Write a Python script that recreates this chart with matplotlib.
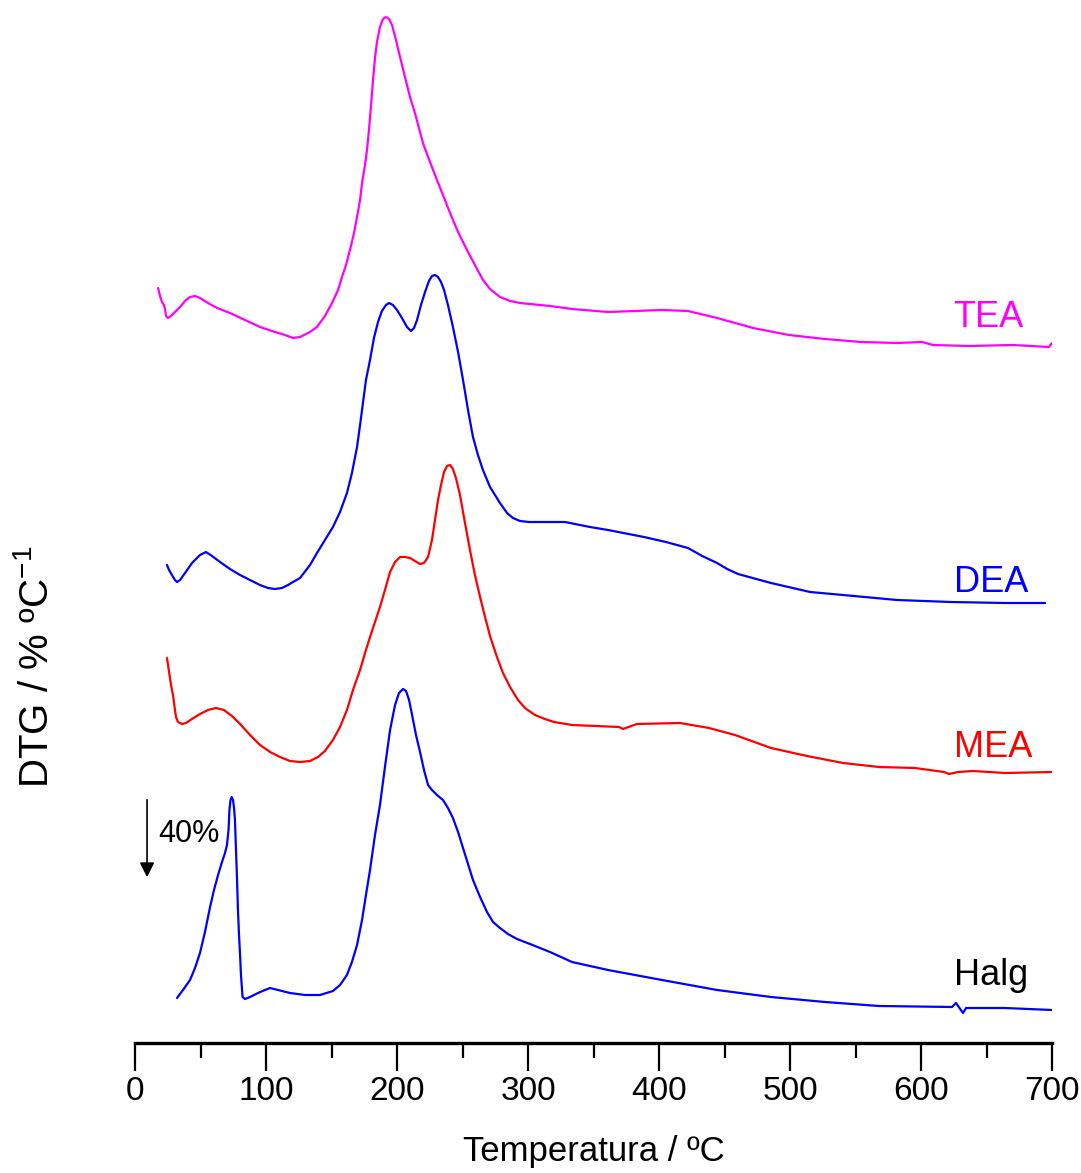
import matplotlib
matplotlib.use("Agg")
import matplotlib.pyplot as plt

plt.rcParams['font.family'] = ['Liberation Sans', 'DejaVu Sans']
plt.rcParams['mathtext.fontset'] = 'custom'
plt.rcParams['mathtext.rm'] = 'Liberation Sans'

# DTG curves, values relative to each curve's own high-temperature baseline (arb. units)
tea_t = [17.6, 19.1, 20.6, 22.1, 22.9, 23.7, 25.2, 27.5, 30.5, 34.4, 38.9, 42.0, 45.8,
         49.6, 55.7, 62.6, 72.5, 84.0, 95.4, 106.9, 114.5, 120.6, 126.0, 133.6, 138.9,
         145.0, 150.4, 155.0, 158.0, 161.1, 164.1, 167.2, 169.5, 171.8, 173.3, 175.6,
         177.1, 178.6, 180.2, 181.7, 183.2, 184.7, 187.0, 189.3, 191.6, 193.9, 196.2,
         199.2, 202.3, 206.1, 209.9, 213.7, 219.8, 225.2, 230.5, 236.6, 240.5, 246.6,
         253.4, 259.5, 265.6, 271.0, 278.6, 286.3, 293.9, 316.8, 333.6, 361.1, 402.3,
         422.1, 444.3, 471.8, 499.2, 526.7, 554.2, 581.7, 600.8, 609.2, 636.6, 670.2,
         697.7, 700.0]
tea_v = [57, 49, 43, 40, 36, 29, 27, 29, 33, 38, 45, 48, 49,
         47, 42, 37, 32, 25, 18, 13, 10, 7, 8, 13, 18,
         29, 42, 55, 68, 80, 95, 112, 128, 145, 162, 180,
         195, 215, 240, 265, 287, 303, 318, 326, 328, 326, 320,
         305, 288, 268, 248, 232, 202, 183, 165, 145, 132, 113,
         95, 80, 65, 56, 48, 44, 42, 39, 36, 33, 35,
         34, 27, 17, 10, 6, 3, 2, 3, 0, -1, 0,
         -2, 2]

dea_t = [24.4, 26.0, 28.2, 30.5, 32.1, 34.4, 38.2, 43.5, 49.6, 54.2, 58.8, 64.9, 72.5,
         80.2, 87.8, 95.4, 101.5, 106.9, 112.2, 116.8, 120.6, 126.0, 133.6, 138.9, 145.0,
         151.1, 156.5, 161.8, 165.6, 169.5, 171.8, 174.0, 176.3, 179.4, 182.4, 185.5,
         188.5, 191.6, 193.9, 196.9, 200.0, 203.8, 207.6, 210.7, 213.0, 215.3, 218.3,
         221.4, 224.4, 226.7, 229.0, 231.3, 233.6, 235.9, 238.9, 242.7, 246.6, 250.4,
         254.2, 258.0, 261.8, 265.6, 271.0, 278.6, 284.0, 288.5, 293.9, 300.8, 328.2,
         347.3, 361.1, 388.5, 405.3, 422.1, 433.0, 444.3, 452.0, 460.3, 485.5, 515.3,
         540.5, 581.7, 622.9, 664.1, 694.7]
dea_v = [38, 33, 28, 23, 21, 23, 30, 40, 48, 51, 47, 41, 34,
         28, 23, 18, 15, 14, 15, 18, 21, 25, 38, 50, 63,
         76, 91, 110, 130, 156, 178, 200, 223, 243, 265, 281,
         292, 298, 300, 298, 293, 285, 276, 272, 275, 283, 298,
         311, 322, 327, 328, 326, 321, 313, 298, 276, 251, 223,
         193, 166, 148, 133, 116, 100, 90, 85, 82, 81, 81,
         76, 73, 66, 61, 55, 47, 40, 34, 29, 20, 11,
         8, 3, 1, 0, 0]

mea_t = [24.4, 26.0, 27.5, 29.0, 30.5, 31.3, 32.8, 35.9, 38.9, 43.5, 49.6, 55.7, 61.8,
         67.9, 74.0, 80.2, 87.8, 95.4, 103.1, 110.7, 118.3, 126.0, 133.6, 139.7, 145.0,
         151.1, 156.5, 161.8, 166.4, 171.8, 175.6, 179.4, 183.2, 187.0, 190.8, 194.7,
         198.5, 202.3, 206.1, 209.9, 213.7, 217.6, 220.6, 223.7, 226.7, 229.0, 231.3,
         233.6, 235.9, 238.2, 240.5, 242.7, 245.0, 248.1, 251.9, 255.7, 259.5, 263.4,
         267.2, 271.0, 276.3, 280.9, 286.3, 292.4, 297.7, 305.3, 312.9, 319.8, 333.6,
         369.5, 372.5, 383.2, 416.0, 438.2, 458.0, 485.5, 513.0, 540.5, 567.9, 595.4,
         617.6, 621.4, 628.2, 639.7, 664.1, 700.0]
mea_v = [114, 100, 87, 77, 62, 55, 50, 48, 49, 53, 58, 62, 64,
         62, 56, 48, 37, 27, 20, 15, 11, 10, 11, 15, 21,
         32, 45, 62, 82, 102, 119, 135, 150, 165, 182, 200,
         210, 215, 215, 214, 211, 208, 209, 215, 232, 252, 272,
         287, 300, 306, 307, 303, 294, 277, 249, 222, 197, 175,
         155, 136, 115, 99, 85, 72, 64, 57, 53, 50, 47,
         45, 43, 48, 49, 44, 37, 24, 16, 9, 5, 4,
         0, -2, 0, 1, -1, 0]

halg_t = [32.1, 36.6, 42.0, 45.8, 49.6, 53.4, 57.3, 60.3, 63.4, 66.4, 68.7, 70.2, 71.4,
          72.1, 72.9, 73.8, 74.8, 75.6, 76.3, 77.1, 77.9, 78.6, 79.4, 80.2, 80.9,
          82.1, 84.0, 87.8, 93.9, 99.2, 103.1, 109.2, 118.3, 129.8, 141.2, 151.1,
          156.5, 161.8, 165.6, 169.5, 173.3, 176.3, 179.4, 183.2, 187.0, 190.8, 194.7,
          198.5, 201.5, 204.6, 206.9, 209.2, 211.5, 214.5, 217.6, 220.6, 223.7, 226.7,
          230.5, 235.1, 238.9, 242.7, 246.6, 250.4, 254.2, 258.0, 263.4, 268.7, 273.3,
          278.6, 284.7, 291.6, 301.5, 316.8, 333.6, 361.1, 402.3, 444.3, 485.5, 526.7,
          567.9, 623.7, 626.7, 632.1, 634.4, 664.1, 700.0]
halg_v = [11, 19, 29, 41, 56, 77, 102, 119, 134, 147, 156, 164, 179,
          199, 209, 212, 209, 201, 189, 159, 129, 99, 74, 54, 34,
          12, 10, 12, 16, 19, 21, 19, 16, 14, 14, 18,
          24, 34, 47, 64, 89, 114, 139, 174, 204, 242, 279,
          304, 316, 320, 318, 309, 294, 274, 257, 239, 224, 219,
          214, 209, 201, 191, 177, 161, 145, 129, 112, 97, 87,
          81, 75, 70, 65, 57, 47, 39, 29, 19, 12, 7,
          3, 2, 6, -4, 1, 1, -1]

names = ['TEA', 'DEA', 'MEA', 'Halg']
colors = ['#ff00ff', '#0000ff', '#ff0000', '#0000ff']
label_colors = ['#ff00ff', '#0000ff', '#ff0000', '#000000']
offsets = [698, 440, 271, 34]
label_y = [716, 451, 286, 58]

fig = plt.figure(figsize=(10.81, 11.73), dpi=100)
ax = fig.add_axes([135 / 1081, 130 / 1173, 917 / 1081, 1043 / 1173])

curves = [(tea_t, tea_v), (dea_t, dea_v), (mea_t, mea_v), (halg_t, halg_v)]
for (t, v), off, c in zip(curves, offsets, colors):
    ax.plot(t, [val + off for val in v], color=c, lw=1.6,
            solid_joinstyle='round', solid_capstyle='round')

for name, c, y in zip(names, label_colors, label_y):
    ax.text(625, y, name, color=c, fontsize=26, va='baseline', ha='left')

# 40% scale arrow
ax.annotate('', xy=(9.2, 163), xytext=(9.2, 246),
            arrowprops=dict(arrowstyle='-|>', color='black', lw=1.2, mutation_scale=22))
ax.text(17.6, 201, '40%', fontsize=22, va='baseline', ha='left')

ax.set_xlim(0, 700)
ax.set_ylim(0, 1043)
ax.set_xticks(range(0, 701, 100))
ax.set_xticks(range(50, 701, 100), minor=True)
ax.tick_params(axis='x', which='major', length=20, width=1.6, labelsize=24, pad=4)
ax.tick_params(axis='x', which='minor', length=11, width=1.6)
ax.set_yticks([])
for s in ['top', 'right', 'left']:
    ax.spines[s].set_visible(False)
ax.spines['bottom'].set_linewidth(2.4)

ax.set_xlabel('Temperatura / ºC', fontsize=25)
ax.xaxis.set_label_coords(0.5, -(1152 - 1043) / 1043)
ax.xaxis.label.set_va('center')

fig.text(37 / 1081, 1 - 667 / 1173, 'DTG / % ºC$^{-1}$', rotation=90, fontsize=29,
         va='center', ha='center')

fig.savefig('out.png', dpi=100)
